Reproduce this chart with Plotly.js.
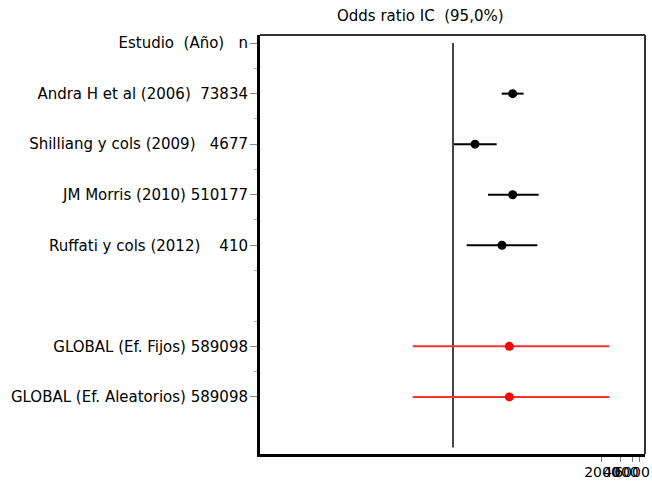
<!DOCTYPE html>
<html>
<head>
<meta charset="utf-8">
<script src="https://cdn.plot.ly/plotly-3.0.1.min.js"></script>
<style>html,body{margin:0;padding:0;background:#fff;}#chart{width:652px;height:483px;}</style>
</head>
<body>
<div id="chart"></div>
<script>
// Row labels (top to bottom); blank row separates studies from pooled estimates
const rowLabels = [
  "Estudio\u00a0 (Año)\u00a0\u00a0 n",
  "Andra H et al (2006)\u00a0 73834",
  "Shilliang y cols (2009)\u00a0\u00a0 4677",
  "JM Morris (2010) 510177",
  "Ruffati y cols (2012)\u00a0\u00a0\u00a0 410",
  "",
  "GLOBAL (Ef. Fijos) 589098",
  "GLOBAL (Ef. Aleatorios) 589098"
];
// Individual studies
const studyLabels = [rowLabels[1], rowLabels[2], rowLabels[3], rowLabels[4]];
const studyOR    = [76.5, 19.3, 76.5, 51.7];
const studyLower = [51.2, 8.95, 31.0, 14.2];
const studyUpper = [114, 42.6, 198, 188];
// Pooled estimates
const globalLabels = [rowLabels[6], rowLabels[7]];
const globalOR    = [67.6, 67.6];
const globalLower = [1.98, 1.98];
const globalUpper = [2612, 2612];
// Reference (null) line and x-axis ticks
const refValue = 8.63;
const xTickVals = [2000, 4000, 6000, 8000];
const xTickText = ["2000", "4000", "6000", "8000"];

const rowIndex = l => rowLabels.indexOf(l);
const tickRows = rowLabels.map((l, i) => i).filter(i => rowLabels[i] !== "");

const traces = [
  {
    x: [refValue, refValue], y: [0, 8], mode: 'lines', type: 'scatter',
    line: {color: '#444', width: 2}, hoverinfo: 'skip', showlegend: false
  },
  {
    x: studyOR, y: studyLabels.map(rowIndex), type: 'scatter', mode: 'markers',
    marker: {color: '#000', size: 9, symbol: 'circle'},
    error_x: {type: 'data', symmetric: false,
      array: studyUpper.map((u, i) => u - studyOR[i]),
      arrayminus: studyLower.map((l, i) => studyOR[i] - l),
      color: '#000', thickness: 2, width: 0},
    showlegend: false
  },
  {
    x: globalOR, y: globalLabels.map(rowIndex), type: 'scatter', mode: 'markers',
    marker: {color: '#ff0000', size: 9, symbol: 'circle'},
    error_x: {type: 'data', symmetric: false,
      array: globalUpper.map((u, i) => u - globalOR[i]),
      arrayminus: globalLower.map((l, i) => globalOR[i] - l),
      color: '#ff3030', thickness: 2, width: 0},
    showlegend: false
  }
];

const layout = {
  width: 652, height: 483,
  margin: {l: 260, r: 7, t: 35, b: 29},
  paper_bgcolor: '#fff', plot_bgcolor: '#fff',
  font: {family: 'DejaVu Sans, Liberation Sans, Arial, sans-serif', size: 15, color: '#000'},
  showlegend: false,
  xaxis: {
    type: 'log', range: [-2.128, 3.984],
    tickmode: 'array', tickvals: xTickVals, ticktext: xTickText,
    tickangle: 0,
    ticks: 'outside', ticklen: 5, tickcolor: '#777', tickwidth: 1,
    showgrid: false, zeroline: false,
    showline: true, linecolor: '#000', linewidth: 3,
    tickfont: {size: 14}, ticklabelstandoff: -2
  },
  yaxis: {
    range: [8.13, -0.16],
    tickmode: 'array', tickvals: tickRows, ticktext: tickRows.map(i => rowLabels[i]),
    ticks: 'outside', ticklen: 7, tickcolor: '#888', tickwidth: 1,
    minor: {tickvals: [0.5, 1.5, 2.5, 3.5, 4.5, 5.5, 6.5], ticks: 'outside', ticklen: 3, tickcolor: '#aaa'},
    showgrid: false, zeroline: false,
    showline: true, linecolor: '#000', linewidth: 3,
    ticklabelstandoff: -1
  },
  shapes: [
    {type: 'line', xref: 'paper', yref: 'paper', x0: 0, x1: 1, y0: 1, y1: 1, line: {color: '#333', width: 2}},
    {type: 'line', xref: 'paper', yref: 'paper', x0: 1, x1: 1, y0: 0, y1: 1, line: {color: '#333', width: 2}}
  ],
  annotations: [
    {text: 'Odds ratio IC\u00a0 (95,0%)', xref: 'paper', yref: 'paper', x: 0.418, y: 1, yshift: 8,
     xanchor: 'center', yanchor: 'bottom', showarrow: false, font: {size: 15}}
  ]
};

Plotly.newPlot('chart', traces, layout, {displayModeBar: false, staticPlot: true});
</script>
</body>
</html>
